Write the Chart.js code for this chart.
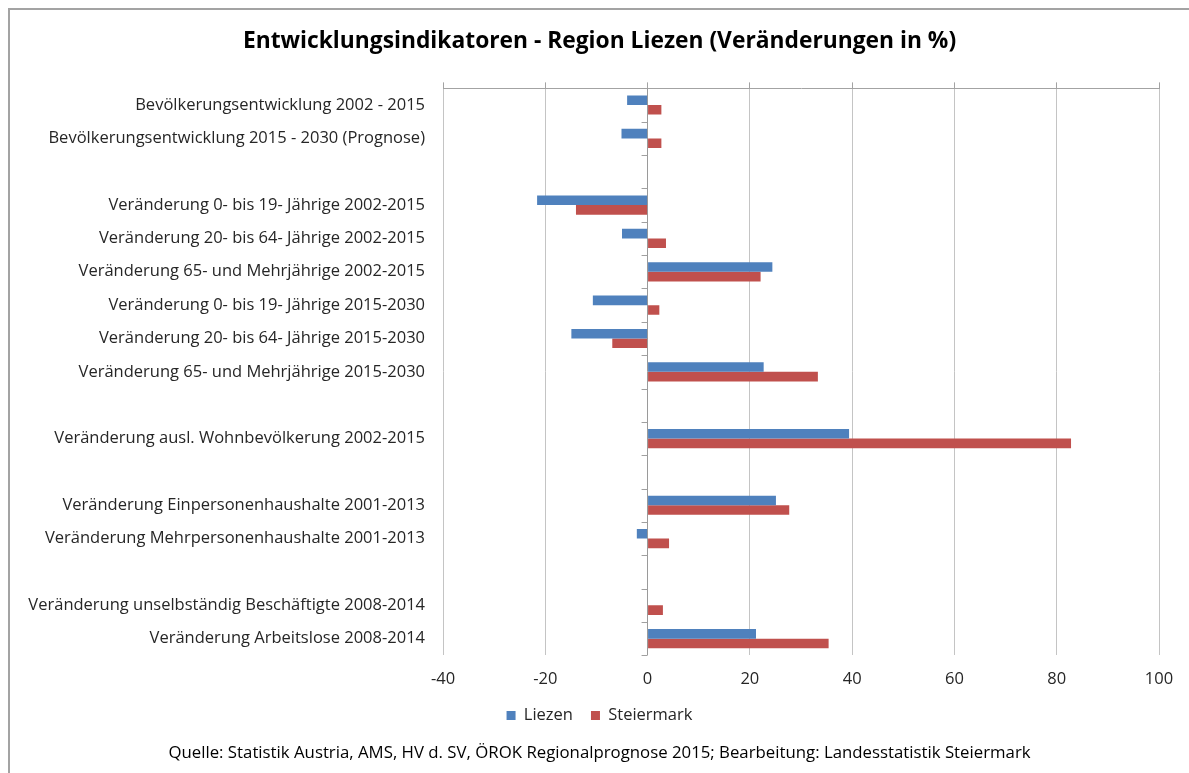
<!DOCTYPE html>
<html>
<head>
<meta charset="utf-8">
<script src="https://cdn.jsdelivr.net/npm/chart.js@4"></script>
<style>
  html, body { margin: 0; padding: 0; background: #fff; overflow: hidden; }
  #rahmen {
    position: absolute; left: 8px; top: 8px;
    width: 1200px; height: 800px;
    border-left: 2px solid #a3a3a3; border-top: 2px solid #a3a3a3;
  }
</style>
</head>
<body>
<div id="rahmen">
  <canvas id="grafico" width="1179" height="763"></canvas>
</div>
<script>
// Kategorien (leere Einträge = Abstandszeilen wie im Original)
var kategorien = [
  'Bevölkerungsentwicklung 2002 - 2015',
  'Bevölkerungsentwicklung 2015 - 2030 (Prognose)',
  '',
  'Veränderung 0- bis 19- Jährige 2002-2015',
  'Veränderung 20- bis 64- Jährige 2002-2015',
  'Veränderung 65- und Mehrjährige 2002-2015',
  'Veränderung 0- bis 19- Jährige 2015-2030',
  'Veränderung 20- bis 64- Jährige 2015-2030',
  'Veränderung 65- und Mehrjährige 2015-2030',
  '',
  'Veränderung ausl. Wohnbevölkerung 2002-2015',
  '',
  'Veränderung Einpersonenhaushalte 2001-2013',
  'Veränderung Mehrpersonenhaushalte 2001-2013',
  '',
  'Veränderung unselbständig Beschäftigte 2008-2014',
  'Veränderung Arbeitslose 2008-2014'
];
var liezen     = [-4.0, -5.1, null, -21.6, -5.0, 24.4, -10.7, -14.9, 22.7, null, 39.4, null, 25.1, -2.1, null, 0, 21.2];
var steiermark = [ 2.7,  2.7, null, -14.0,  3.6, 22.1,   2.3,  -6.9, 33.3, null, 82.8, null, 27.7,  4.2, null, 3.0, 35.4];
var achseMin = -40, achseMax = 100, schritt = 20;

var schrift = "'Open Sans', 'Noto Sans', sans-serif";

// kleine Teilstriche an der Nulllinie zwischen den Kategorien
var nullAchseStriche = {
  id: 'nullAchseStriche',
  afterDatasetsDraw: function(chart) {
    var ctx = chart.ctx;
    var x = chart.scales.x.getPixelForValue(0);
    var y = chart.scales.y;
    ctx.save();
    ctx.strokeStyle = '#a0a0a0';
    ctx.lineWidth = 1;
    for (var i = 0; i <= kategorien.length; i++) {
      var py = Math.round(y.getPixelForValue(i - 0.5)) + 0.5;
      ctx.beginPath();
      ctx.moveTo(x - 6, py);
      ctx.lineTo(x, py);
      ctx.stroke();
    }
    ctx.restore();
  }
};

var contexto = document.getElementById('grafico').getContext('2d');
var grafico = new Chart(contexto, {
  type: 'bar',
  data: {
    labels: kategorien,
    datasets: [{
      label: 'Liezen',
      data: liezen,
      backgroundColor: '#4F81BD',
      borderWidth: 0
    }, {
      label: 'Steiermark',
      data: steiermark,
      backgroundColor: '#C0504D',
      borderWidth: 0
    }]
  },
  options: {
    indexAxis: 'y',
    responsive: false,
    animation: false,
    barPercentage: 1,
    categoryPercentage: 0.575,
    layout: { padding: 0 },
    scales: {
      x: {
        min: achseMin, max: achseMax,
        ticks: { stepSize: schritt, padding: 14, color: '#262626', font: { family: schrift, size: 16.5 } },
        grid: {
          drawTicks: false,
          color: function(c) { return c.tick && c.tick.value === 0 ? '#9a9a9a' : '#c4c4c4'; }
        },
        border: { display: false },
        afterFit: function(s) { s.height = 34; }
      },
      x2: {
        type: 'linear', position: 'top',
        min: achseMin, max: achseMax,
        ticks: { stepSize: schritt, display: false },
        grid: { drawOnChartArea: false, drawTicks: true, tickLength: 6, color: '#a3a3a3' },
        border: { display: true, color: '#a3a3a3' },
        afterFit: function(s) { s.height = 6; }
      },
      y: {
        ticks: { padding: 18, color: '#262626', font: { family: schrift, size: 16.5 } },
        grid: { display: false, drawTicks: false },
        border: { display: false },
        afterFit: function(s) { s.width = 433; }
      },
      // leerer Rand rechts, damit Titel und Legende über die ganze Breite zentriert bleiben
      rand: {
        type: 'linear', position: 'right',
        ticks: { display: false },
        grid: { display: false, drawTicks: false },
        border: { display: false },
        afterFit: function(s) { s.width = 30; }
      }
    },
    plugins: {
      title: {
        display: true,
        text: 'Entwicklungsindikatoren - Region Liezen (Veränderungen in %)',
        color: '#000',
        font: { family: schrift, size: 22.8, weight: 'bold' },
        padding: { top: 18, bottom: 27 }
      },
      legend: {
        position: 'bottom',
        labels: {
          boxWidth: 9, boxHeight: 9, padding: 18,
          color: '#262626',
          font: { family: schrift, size: 16.5 }
        }
      },
      subtitle: {
        display: true,
        position: 'bottom',
        text: 'Quelle: Statistik Austria, AMS, HV d. SV, ÖROK Regionalprognose 2015; Bearbeitung: Landesstatistik Steiermark',
        color: '#000',
        font: { family: schrift, size: 16.8 },
        padding: { top: 9, bottom: 10 }
      },
      tooltip: { enabled: false }
    }
  },
  plugins: [nullAchseStriche]
});
</script>
</body>
</html>
